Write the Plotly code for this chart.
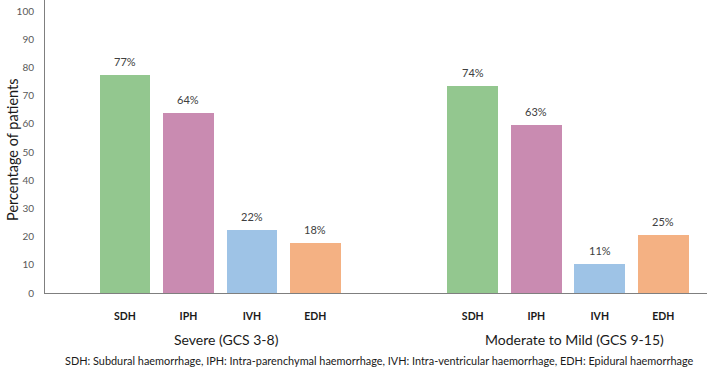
import plotly.graph_objects as go

# ---- data ----
groups = ["Severe (GCS 3-8)", "Moderate to Mild (GCS 9-15)"]
types = ["SDH", "IPH", "IVH", "EDH"]
severe_vals = [77.2, 63.7, 22.4, 17.9]
moderate_vals = [73.3, 59.6, 10.4, 20.4]
severe_labels = ["77%", "64%", "22%", "18%"]
moderate_labels = ["74%", "63%", "11%", "25%"]
y_ticks = [0, 10, 20, 30, 40, 50, 60, 70, 80, 90, 100]
footnote = ("SDH: Subdural haemorrhage, IPH: Intra-parenchymal haemorrhage, "
            "IVH: Intra-ventricular haemorrhage, EDH: Epidural haemorrhage")

colors = ["#93C78F", "#C98BB1", "#9EC3E6", "#F4B183"]
GROUP_OFFSET = 5.48
FONT = "Lato"

values = [severe_vals, moderate_vals]
labels = [severe_labels, moderate_labels]

fig = go.Figure()
for i, t in enumerate(types):
    xs = [g * GROUP_OFFSET + i for g in range(len(groups))]
    ys = [values[g][i] for g in range(len(groups))]
    fig.add_trace(go.Bar(x=xs, y=ys, width=0.8, marker_color=colors[i],
                         marker_line_width=0, name=t, showlegend=False))
    for g in range(len(groups)):
        fig.add_annotation(x=xs[g], y=ys[g], text=labels[g][i], showarrow=False,
                           yanchor="bottom", yshift=5,
                           font=dict(family=FONT, size=11, color="#404040"))

tickvals = [g * GROUP_OFFSET + i for g in range(len(groups)) for i in range(len(types))]
ticktext = [t for g in range(len(groups)) for t in types]

for g, name in enumerate(groups):
    fig.add_annotation(x=g * GROUP_OFFSET + 1.5, y=-0.16, xref="x", yref="paper",
                       text=name, showarrow=False, yanchor="middle", xshift=6,
                       font=dict(family=FONT, size=14, color="#1a1a1a"))

fig.add_annotation(x=0.5045, y=-0.232, xref="paper", yref="paper", text=footnote,
                   showarrow=False, yanchor="middle",
                   font=dict(family=FONT, size=10.9, color="#1a1a1a"))

fig.add_annotation(x=-0.05, y=0.488, xref="paper", yref="paper",
                   text="Percentage of patients", textangle=-90, showarrow=False,
                   xanchor="center", yanchor="middle",
                   font=dict(family=FONT, size=14.5, color="#1a1a1a"))

fig.update_layout(
    width=707, height=370,
    margin=dict(l=45, r=0, t=0, b=77),
    plot_bgcolor="white", paper_bgcolor="white",
    bargap=0,
)
fig.update_xaxes(range=[-1.26, 9.17], tickvals=tickvals,
                 ticktext=["<b>%s</b>" % t for t in ticktext],
                 tickfont=dict(family=FONT, size=10.5, color="#1a1a1a"),
                 showline=True, linecolor="#7f7f7f", linewidth=1,
                 showgrid=False, zeroline=False, ticks="", ticklabelstandoff=13)
fig.update_yaxes(range=[0, 103.9], tickvals=y_ticks,
                 tickfont=dict(family=FONT, size=10, color="#595959"),
                 showline=True, linecolor="#7f7f7f", linewidth=1,
                 showgrid=False, zeroline=False, ticks="", ticklabelstandoff=8)

fig.write_html("out.html", config={"displayModeBar": False},
               post_script="document.body.style.margin='0';")
